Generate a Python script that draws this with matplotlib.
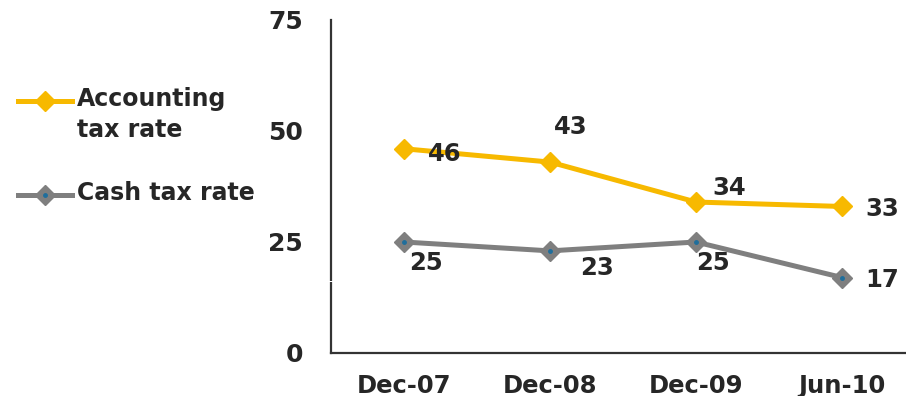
import numpy as np
import matplotlib.pyplot as plt
from matplotlib.lines import Line2D

periods = ["Dec-07", "Dec-08", "Dec-09", "Jun-10"]
accounting = [46, 43, 34, 33]
cash = [25, 23, 25, 17]
yticks = [0, 25, 50, 75]

YELLOW = "#F7B900"
GREY = "#7F7F7F"
DOT = "#1F6E9C"
TXT = "#262626"

plt.rcParams['font.family'] = ['DejaVu Sans']

fig = plt.figure(figsize=(9.06, 3.96), dpi=100)
ax = fig.add_axes([0.3653, 0.1086, 0.6347, 0.8409])

x = np.arange(len(periods))
ax.plot(x, accounting, color=YELLOW, lw=3.6, marker="D", ms=10,
        mfc=YELLOW, mec=YELLOW, solid_capstyle="butt")
ax.plot(x, cash, color=GREY, lw=3.6, marker="D", ms=10,
        mfc=GREY, mec=GREY, solid_capstyle="butt")
ax.plot(x, cash, ls="none", marker="o", ms=2.5, color=DOT)

# value labels: (dx, dy) offsets in points
acc_off = [(29, -4), (15, 25), (24, 10), (29, -2)]
cash_off = [(16, -15), (34, -12), (12, -15), (29, -2)]
for xi, v, (dx, dy) in zip(x, accounting, acc_off):
    ax.annotate(str(v), (xi, v), xytext=(dx, dy), textcoords="offset points",
                ha="center", va="center", fontsize=17.5, fontweight="bold", color=TXT)
for xi, v, (dx, dy) in zip(x, cash, cash_off):
    ax.annotate(str(v), (xi, v), xytext=(dx, dy), textcoords="offset points",
                ha="center", va="center", fontsize=17.5, fontweight="bold", color=TXT)

ax.set_xlim(-0.5, 3.438)
ax.set_ylim(0, 75)
ax.set_yticks(yticks)
ax.set_xticks(x)
ax.set_xticklabels(periods)
ax.tick_params(axis="both", length=0, labelcolor=TXT)
ax.tick_params(axis="y", pad=20, labelsize=18)
ax.tick_params(axis="x", pad=15, labelsize=17.5)
for lab in ax.get_xticklabels() + ax.get_yticklabels():
    lab.set_fontweight("bold")

for s in ["top", "right"]:
    ax.spines[s].set_visible(False)
for s in ["left", "bottom"]:
    ax.spines[s].set_color("#333333")
    ax.spines[s].set_linewidth(1.6)

# small break in the value axis
ax.plot([-0.5, -0.5], [15.9, 16.3], color="white", lw=3, clip_on=False,
        solid_capstyle="butt", zorder=5)

# legend drawn by hand in figure coordinates
W, H = 906, 396
def fx(px):
    return px / W
def fy(py):
    return 1 - py / H

for py, col, label in [(101, YELLOW, "Accounting\ntax rate"), (195, GREY, "Cash tax rate")]:
    fig.add_artist(Line2D([fx(18), fx(72)], [fy(py), fy(py)], color=col, lw=3.6))
    fig.add_artist(Line2D([fx(45)], [fy(py)], marker="D", ms=10, color=col))
    if col == GREY:
        fig.add_artist(Line2D([fx(45)], [fy(py)], marker="o", ms=2.5, color=DOT))
    fig.text(fx(77), fy(py - 14), label, ha="left", va="top", fontsize=17,
             fontweight="bold", color=TXT, linespacing=1.35)

fig.savefig("out.png", dpi=100)
